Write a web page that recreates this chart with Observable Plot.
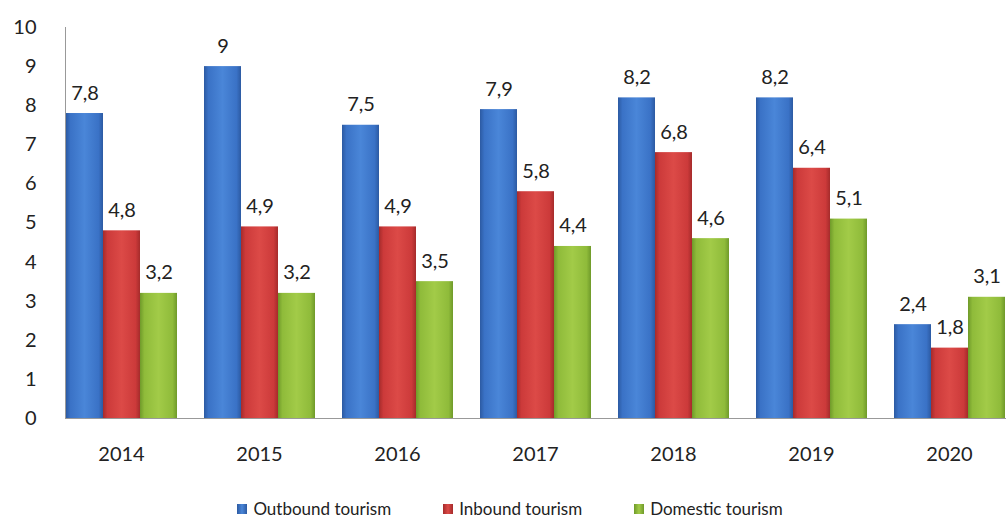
<!DOCTYPE html>
<html>
<head>
<meta charset="utf-8">
<script src="https://cdn.jsdelivr.net/npm/d3@7"></script>
<script src="https://cdn.jsdelivr.net/npm/@observablehq/plot@0.6"></script>
<style>
  html, body { margin: 0; padding: 0; background: #fff; }
  body { width: 1006px; height: 518px; overflow: hidden; font-family: Lato, "Open Sans", sans-serif; }
  #legend { display: flex; justify-content: center; gap: 52px; padding-top: 20px; padding-left: 14px; font-size: 17px; line-height: 18px; color: #222; }
  #legend .item { display: flex; align-items: center; gap: 6px; }
  #legend .sw { width: 10px; height: 10px; display: inline-block; }
</style>
</head>
<body>
<div id="chart"></div>
<div id="legend"></div>
<script>
const years = ["2014", "2015", "2016", "2017", "2018", "2019", "2020"];
const seriesNames = ["Outbound tourism", "Inbound tourism", "Domestic tourism"];
const outbound = [7.8, 9, 7.5, 7.9, 8.2, 8.2, 2.4];
const inbound = [4.8, 4.9, 4.9, 5.8, 6.8, 6.4, 1.8];
const domestic = [3.2, 3.2, 3.5, 4.4, 4.6, 5.1, 3.1];
const yTicks = [0, 1, 2, 3, 4, 5, 6, 7, 8, 9, 10];

const palettes = [
  {id: "gBlue", edge: "#2c5aa2", mid: "#3a72c6", light: "#4a86d8"},
  {id: "gRed", edge: "#a52b2b", mid: "#cc3a3a", light: "#dc4a47"},
  {id: "gGreen", edge: "#6f9a2a", mid: "#8fbb3a", light: "#a2cb48"}
];

const seriesValues = [outbound, inbound, domestic];
const data = [];
years.forEach((y, i) => {
  seriesNames.forEach((s, j) => data.push({year: y, series: s, value: seriesValues[j][i]}));
});

const fmt = v => String(v).replace(".", ",");

const chart = Plot.plot({
  width: 1006,
  height: 480,
  marginLeft: 52,
  marginRight: -12,
  marginTop: 27,
  marginBottom: 62,
  style: {fontFamily: "Lato, 'Open Sans', sans-serif", color: "#222", background: "#fff"},
  fx: {domain: years, paddingInner: 0.19, paddingOuter: 0.095, label: null},
  x: {domain: seriesNames, padding: 0, axis: null},
  y: {domain: [0, 10], axis: null},
  color: {type: "ordinal", domain: seriesNames, range: palettes.map(p => `url(#${p.id})`)},
  marks: [
    Plot.barY(data, {fx: "year", x: "series", y: "value", fill: "series"}),
    Plot.text(data, {fx: "year", x: "series", y: "value", text: d => fmt(d.value), lineAnchor: "bottom", dy: -14, fontSize: 20, fill: "#222"}),
    Plot.axisY({ticks: yTicks, tickSize: 0, tickPadding: 29, fontSize: 20, tickFormat: d => String(d), label: null}),
    Plot.axisFx({anchor: "bottom", tickSize: 0, tickPadding: 28, fontSize: 20, label: null}),
    Plot.frame({anchor: "left", facet: "super", stroke: "#999"}),
    Plot.frame({anchor: "bottom", facet: "super", stroke: "#999"})
  ]
});

const defs = palettes.map(p => `
  <linearGradient id="${p.id}" x1="0" y1="0" x2="1" y2="0">
    <stop offset="0" stop-color="${p.edge}"/>
    <stop offset="0.12" stop-color="${p.mid}"/>
    <stop offset="0.5" stop-color="${p.light}"/>
    <stop offset="0.88" stop-color="${p.mid}"/>
    <stop offset="1" stop-color="${p.edge}"/>
  </linearGradient>`).join("");
chart.insertAdjacentHTML("afterbegin", `<defs>${defs}</defs>`);
document.getElementById("chart").appendChild(chart);

const legend = document.getElementById("legend");
seriesNames.forEach((s, j) => {
  const p = palettes[j];
  const item = document.createElement("div");
  item.className = "item";
  const sw = document.createElement("span");
  sw.className = "sw";
  sw.style.background = `linear-gradient(to right, ${p.edge}, ${p.light}, ${p.edge})`;
  const t = document.createElement("span");
  t.textContent = s;
  item.appendChild(sw);
  item.appendChild(t);
  legend.appendChild(item);
});
</script>
</body>
</html>
